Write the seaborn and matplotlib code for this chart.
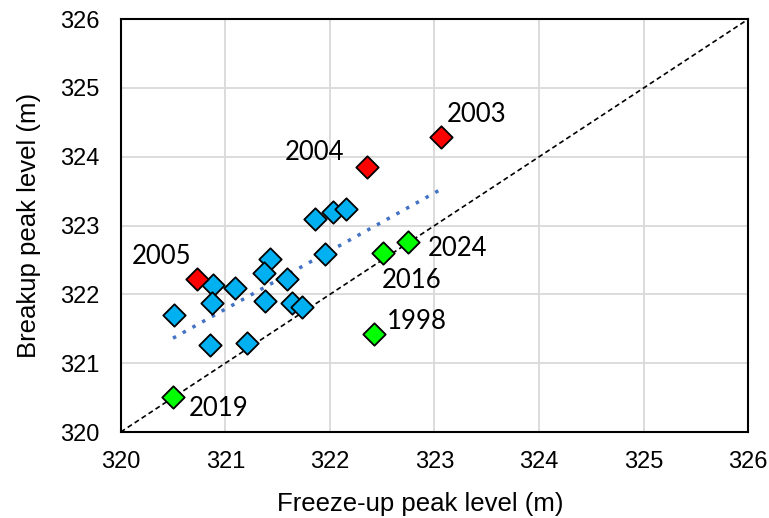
import numpy as np
import pandas as pd
import matplotlib
matplotlib.use('Agg')
import matplotlib.pyplot as plt
import seaborn as sns

# regular years (blue)
blue_x = [321.86, 322.03, 322.15, 321.43, 321.37, 321.95, 321.59, 321.09,
          320.88, 320.87, 321.38, 321.64, 321.73, 320.51, 320.85, 321.21]
blue_y = [323.10, 323.20, 323.24, 322.51, 322.31, 322.58, 322.22, 322.10,
          322.14, 321.87, 321.91, 321.87, 321.82, 321.70, 321.26, 321.29]

# highlighted years
red_years = ['2005', '2004', '2003']
red_x = [320.73, 322.35, 323.06]
red_y = [322.22, 323.85, 324.29]

green_years = ['2016', '2024', '1998', '2019']
green_x = [322.51, 322.75, 322.42, 320.50]
green_y = [322.60, 322.76, 321.43, 320.51]

# label offsets (data units)
red_off = [(-0.62, 0.33), (-0.78, 0.21), (0.06, 0.33)]
green_off = [(-0.01, -0.40), (0.19, -0.1), (0.12, 0.17), (0.15, -0.17)]

sns.set_style('white')
plt.rcParams['font.family'] = ['Liberation Sans', 'DejaVu Sans']
plt.rcParams['text.color'] = 'black'
plt.rcParams['axes.labelcolor'] = 'black'

fig = plt.figure(figsize=(7.69, 5.18), dpi=100)
ax = fig.add_axes([0.157, 0.166, 0.816, 0.797])

# 1:1 line
ax.plot([320, 326], [320, 326], color='black', ls=(0, (3, 2)), lw=1.2, zorder=2)

# linear trend over all years
all_x = blue_x + red_x + green_x
all_y = blue_y + red_y + green_y
trend = pd.DataFrame({'x': all_x, 'y': all_y})
sns.regplot(data=trend, x='x', y='y', ax=ax, scatter=False, ci=None, truncate=True,
            line_kws=dict(color='#4472C4', ls=(0, (1, 2.2)), lw=2.5, zorder=2))

mk = dict(marker='D', s=130, edgecolor='black', linewidth=1.3, zorder=3)
sns.scatterplot(x=blue_x, y=blue_y, color='#00B0F0', ax=ax, **mk)
sns.scatterplot(x=red_x, y=red_y, color='#FF0000', ax=ax, **mk)
sns.scatterplot(x=green_x, y=green_y, color='#00FF00', ax=ax, **mk)

for yr, x, y, (dx, dy) in zip(red_years + green_years, red_x + green_x,
                              red_y + green_y, red_off + green_off):
    ax.text(x + dx, y + dy, yr, fontsize=18.5, family=['Lato', 'DejaVu Sans'],
            ha='left', va='center', color='black')

ax.set_xlim(320, 326)
ax.set_ylim(320, 326)
ax.set_xticks(range(320, 327))
ax.set_yticks(range(320, 327))
ax.grid(True, color='#D9D9D9', lw=1.3)
ax.set_axisbelow(True)
for sp in ax.spines.values():
    sp.set_color('black')
    sp.set_linewidth(1.5)
ax.tick_params(axis='both', labelsize=17, length=0, colors='black')
ax.tick_params(axis='x', pad=14)
ax.tick_params(axis='y', pad=15)
ax.set_xlabel('Freeze-up peak level (m)', fontsize=18.5)
ax.set_ylabel('Breakup peak level (m)', fontsize=18.5, labelpad=14)
ax.xaxis.set_label_coords(0.477, -0.145)

fig.savefig('out.png', dpi=100)
